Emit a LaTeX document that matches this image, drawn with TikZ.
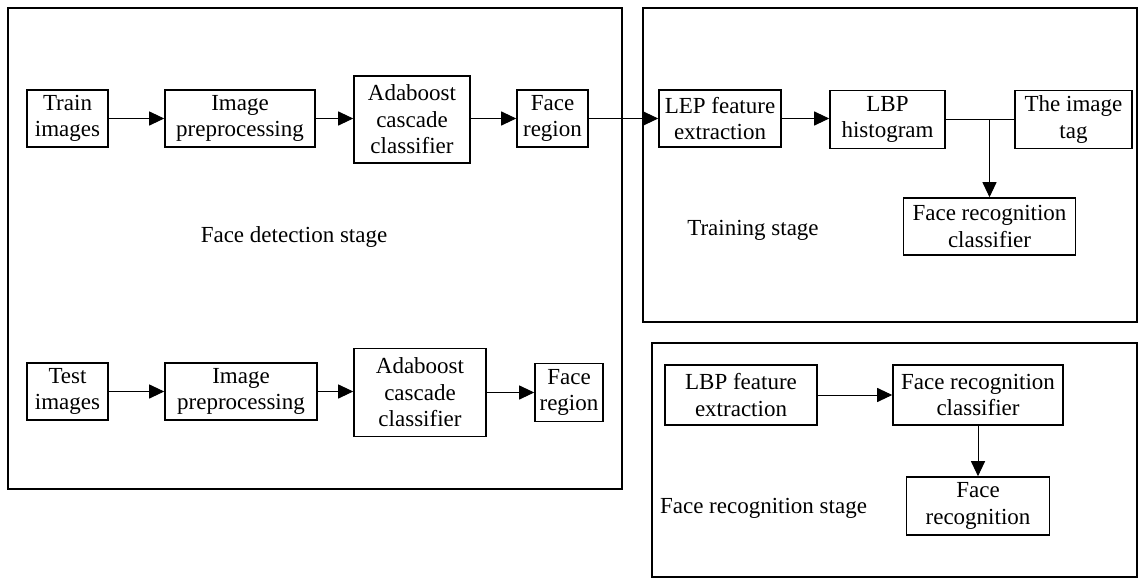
\documentclass[tikz,border=0pt]{standalone}
\usepackage{fontspec}
\setmainfont{Liberation Serif}
\usetikzlibrary{arrows.meta}
\begin{document}
\begin{tikzpicture}[x=1pt,y=-1pt,
  every node/.style={font=\fontsize{23}{26.5}\selectfont},
  stagebox/.style={draw=black,line width=2pt},
  blockbox/.style={draw=black,line width=1.6pt,align=center,inner sep=0pt,fill=white},
  conn/.style={line width=1pt,-{Triangle[length=15pt,width=14pt]}},
  plainconn/.style={line width=1.6pt},
  caption/.style={inner sep=0pt}]
\useasboundingbox (0,0) rectangle (1138,578);
% stage frames
\draw[stagebox] (8,8) rectangle (622,489);
\draw[stagebox] (643,8) rectangle (1137,322);
\draw[stagebox] (652,343) rectangle (1137,577);
% top row (training images)
\node[blockbox,minimum width=81pt,minimum height=57pt] (train) at (67.5,118.5) {Train\\images};
\node[blockbox,minimum width=150pt,minimum height=57pt] (prep1) at (240,118.5) {Image\\preprocessing};
\node[blockbox,minimum width=116pt,minimum height=87pt] (ada1) at (412,119.5) {Adaboost\\cascade\\classifier};
\node[blockbox,minimum width=71pt,minimum height=57pt] (face1) at (552.5,118.5) {Face\\region};
\node[blockbox,minimum width=122pt,minimum height=57pt] (lep) at (720,118.5) {LEP feature\\extraction};
\node[blockbox,minimum width=115pt,minimum height=58pt] (lbph) at (887.5,119.5) {LBP\\histogram};
\node[blockbox,minimum width=117pt,minimum height=58pt] (tag) at (1073.5,119.5) {The image\\tag};
\node[blockbox,minimum width=172pt,minimum height=57pt] (frc1) at (989.5,226.5) {Face recognition\\classifier};
% bottom row (test images)
\node[blockbox,minimum width=81pt,minimum height=57pt] (test) at (67.5,391.5) {Test\\images};
\node[blockbox,minimum width=152pt,minimum height=57pt] (prep2) at (241,391.5) {Image\\preprocessing};
\node[blockbox,minimum width=132pt,minimum height=88pt] (ada2) at (420,392.5) {Adaboost\\cascade\\classifier};
\node[blockbox,minimum width=68pt,minimum height=58pt] (face2) at (569,392.5) {Face\\region};
% recognition stage
\node[blockbox,minimum width=152pt,minimum height=60pt] (lbpf) at (741,395) {LBP feature\\extraction};
\node[blockbox,minimum width=170pt,minimum height=60pt] (frc2) at (978,395) {Face recognition\\classifier};
\node[blockbox,minimum width=143pt,minimum height=58pt] (fr) at (978,506) {Face\\recognition};
% captions
\node[caption] (cap1) at (294,237) {Face detection stage};
\node[caption] (cap2) at (753,230) {Training stage};
\node[caption] (cap3) at (763.5,508) {Face recognition stage};
% connectors
\draw[conn] (train) -- (prep1);
\draw[conn] (prep1) -- (ada1.west |- prep1.east);
\draw[conn] (ada1.east |- face1.west) -- (face1);
\draw[conn] (face1) -- (lep);
\draw[conn] (lep) -- (lbph.west |- lep.east);
\draw[plainconn] (lbph.east) -- (tag.west);
\coordinate (junc) at (frc1.north |- lbph.east);
\draw[conn] (junc) -- (frc1.north);
\draw[conn] (test) -- (prep2);
\draw[conn] (prep2.east) -- (ada2.west |- prep2.east);
\draw[conn] (ada2.east |- face2.west) -- (face2.west);
\draw[conn] (lbpf) -- (frc2);
\draw[conn] (frc2) -- (fr);
\end{tikzpicture}
\end{document}
